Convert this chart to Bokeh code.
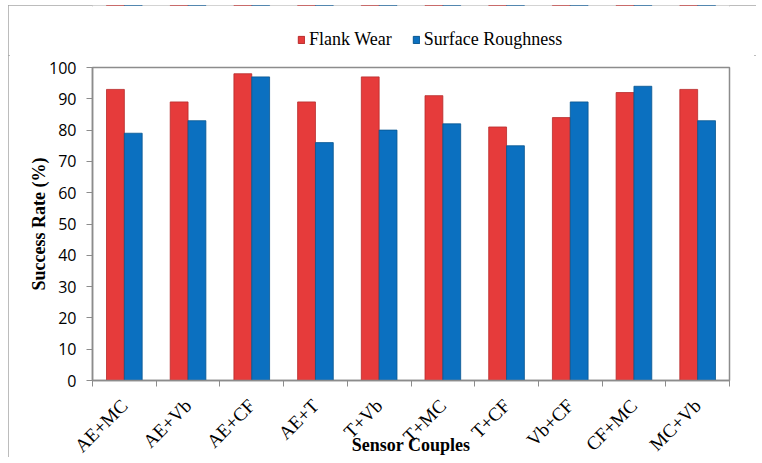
import numpy as np
from bokeh.plotting import figure
from bokeh.layouts import column
from bokeh.models import (ColumnDataSource, FixedTicker, Legend, LegendItem, Range1d)
from bokeh.embed import file_html
from bokeh.resources import INLINE

categories = ["AE+MC", "AE+Vb", "AE+CF", "AE+T", "T+Vb", "T+MC", "T+CF", "Vb+CF", "CF+MC", "MC+Vb"]
flank_wear = [93, 89, 98, 89, 97, 91, 81, 84, 92, 93]
surface_roughness = [79, 83, 97, 76, 80, 82, 75, 89, 94, 83]
y_ticks = [0, 10, 20, 30, 40, 50, 60, 70, 80, 90, 100]

RED, RED_EDGE = "#E63B3B", "#B82A2A"
BLUE, BLUE_EDGE = "#0B70C0", "#08558F"

centers = np.arange(len(categories)) + 0.5
bw = 0.28

src = ColumnDataSource(dict(
    xf=centers - bw / 2, xs=centers + bw / 2,
    fw=flank_wear, sr=surface_roughness))

# ---- legend strip on top (its frame is aligned with the chart's frame) ----
lg = figure(width=748, height=50, output_backend="svg", toolbar_location=None,
            x_axis_type=None, y_axis_type=None,
            x_range=Range1d(0, len(categories)), y_range=Range1d(-2, -1),
            min_border=0, min_border_left=0, min_border_right=0, min_border_top=0,
            min_border_bottom=0, outline_line_color=None)
lr = lg.vbar(x="xf", top="fw", width=bw, source=src, fill_color=RED, line_color=RED_EDGE)
lb = lg.vbar(x="xs", top="sr", width=bw, source=src, fill_color=BLUE, line_color=BLUE_EDGE)
legend = Legend(items=[LegendItem(label="Flank Wear", renderers=[lr], index=0),
                       LegendItem(label="Surface Roughness", renderers=[lb], index=0)],
                orientation="horizontal", location=(205, 5),
                label_text_font="Liberation Serif", label_text_font_size="18px",
                label_text_color="black", label_height=20,
                glyph_width=8, glyph_height=9, spacing=20, label_standoff=4,
                padding=0, margin=0,
                border_line_color=None, background_fill_alpha=0)
lg.add_layout(legend, "center")

# ---- main chart ----
p = figure(width=748, height=402, output_backend="svg", toolbar_location=None,
           x_range=Range1d(0, len(categories)), y_range=Range1d(0, 100),
           min_border_left=84, min_border_right=27, min_border_top=12, min_border_bottom=76)

p.vbar(x="xf", top="fw", width=bw, source=src, fill_color=RED,
       line_color=RED_EDGE, line_width=0.8)
p.vbar(x="xs", top="sr", width=bw, source=src, fill_color=BLUE,
       line_color=BLUE_EDGE, line_width=0.8)

p.xgrid.grid_line_color = None
p.ygrid.grid_line_color = None
p.outline_line_color = "#8c8c8c"
p.outline_line_width = 1.5

# x axis
label_pos = [float(c) for c in centers]
p.xaxis.ticker = FixedTicker(ticks=label_pos, minor_ticks=list(range(len(categories) + 1)))
p.xaxis.major_label_overrides = {lp: lab for lp, lab in zip(label_pos, categories)}
p.xaxis.major_tick_line_color = None
p.xaxis.major_tick_out = 0
p.xaxis.major_tick_in = 0
p.xaxis.minor_tick_out = 6
p.xaxis.minor_tick_in = 0
p.xaxis.minor_tick_line_color = "#8c8c8c"
p.xaxis.axis_line_color = "#8c8c8c"
p.xaxis.axis_line_width = 1.5
p.xaxis.major_label_orientation = np.pi / 4
p.xaxis.major_label_text_font = "Liberation Serif"
p.xaxis.major_label_text_font_size = "19px"
p.xaxis.major_label_text_color = "black"
p.xaxis.major_label_standoff = 16
p.xaxis.axis_label = "Sensor Couples"
p.xaxis.axis_label_text_font = "Liberation Serif"
p.xaxis.axis_label_text_font_style = "bold"
p.xaxis.axis_label_text_font_size = "18px"
p.xaxis.axis_label_text_color = "black"
p.xaxis.axis_label_standoff = -32

# y axis
p.yaxis.ticker = FixedTicker(ticks=y_ticks)
p.yaxis.minor_tick_line_color = None
p.yaxis.major_tick_out = 6
p.yaxis.major_tick_in = 0
p.yaxis.major_tick_line_color = "#8c8c8c"
p.yaxis.axis_line_color = "#8c8c8c"
p.yaxis.axis_line_width = 1.5
p.yaxis.major_label_text_font = "Open Sans"
p.yaxis.major_label_text_font_size = "16px"
p.yaxis.major_label_text_color = "black"
p.yaxis.major_label_standoff = 10
p.yaxis.axis_label = "Success Rate (%)"
p.yaxis.axis_label_text_font = "Liberation Serif"
p.yaxis.axis_label_text_font_style = "bold"
p.yaxis.axis_label_text_font_size = "18px"
p.yaxis.axis_label_text_color = "black"
p.yaxis.axis_label_standoff = -3

page = column(lg, p, spacing=0,
              styles={"margin-left": "8px", "margin-top": "5px",
                      "outline": "2px solid #a6a6a6", "outline-offset": "-2px"})

open("out.html", "w").write(file_html(page, INLINE))
